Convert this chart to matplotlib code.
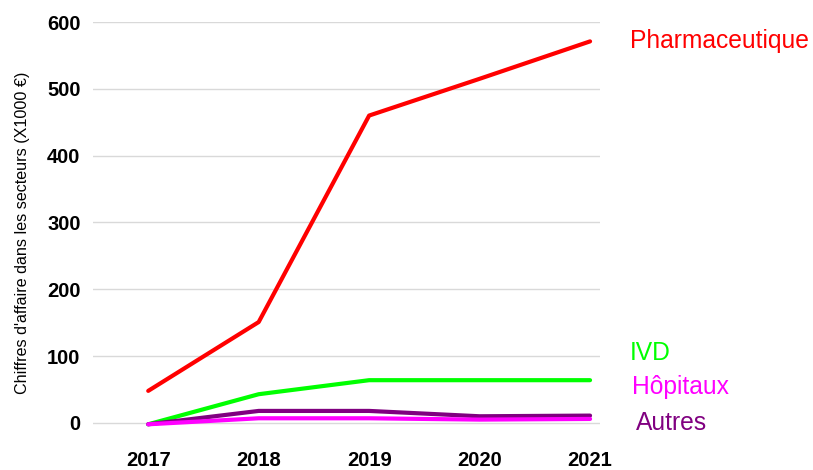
import matplotlib.pyplot as plt

plt.rcParams['font.family'] = ['Liberation Sans', 'DejaVu Sans']

years = [2017, 2018, 2019, 2020, 2021]
pharma = [48, 151, 460, 515, 571]
ivd = [-2, 43, 64, 64, 64]
autres = [-2, 18, 18, 10, 11]
hopitaux = [-2, 7, 7, 5, 6]

series = [
    ('Pharmaceutique', pharma, '#ff0000'),
    ('IVD', ivd, '#00ff00'),
    ('Hôpitaux', hopitaux, '#ff00ff'),
    ('Autres', autres, '#800080'),
]
# label positions in figure pixels (x, y from top)
label_pos = {'Pharmaceutique': (630, 41), 'IVD': (630, 353),
             'Hôpitaux': (632, 387), 'Autres': (636, 423)}

fig = plt.figure(figsize=(8.13, 4.70), dpi=100)
ax = fig.add_axes([93 / 813, 1 - 443 / 470, (600 - 93) / 813, (443 - 22) / 470])

for name, vals, color in [series[0], series[1], series[3], series[2]]:
    ax.plot(years, vals, color=color, linewidth=3, solid_capstyle='round')

for name, vals, color in series:
    x, y = label_pos[name]
    fig.text(x / 813, 1 - y / 470, name, color=color, fontsize=17.7,
             ha='left', va='center')

ax.set_xlim(2016.5, 2021.09)
ax.set_ylim(-30, 600)
ax.set_xticks(years)
ax.set_yticks(range(0, 601, 100))
ax.grid(axis='y', color='#d9d9d9', linewidth=1)
ax.set_axisbelow(True)
for s in ax.spines.values():
    s.set_visible(False)
ax.tick_params(length=0, labelsize=14.5)
ax.tick_params(axis='y', pad=9)
ax.tick_params(axis='x', pad=6)
for lab in ax.get_xticklabels() + ax.get_yticklabels():
    lab.set_fontweight('bold')
ax.set_ylabel("Chiffres d'affaire dans les secteurs (X1000 €)", fontsize=11.6, labelpad=12)

fig.savefig('out.png', dpi=100)
